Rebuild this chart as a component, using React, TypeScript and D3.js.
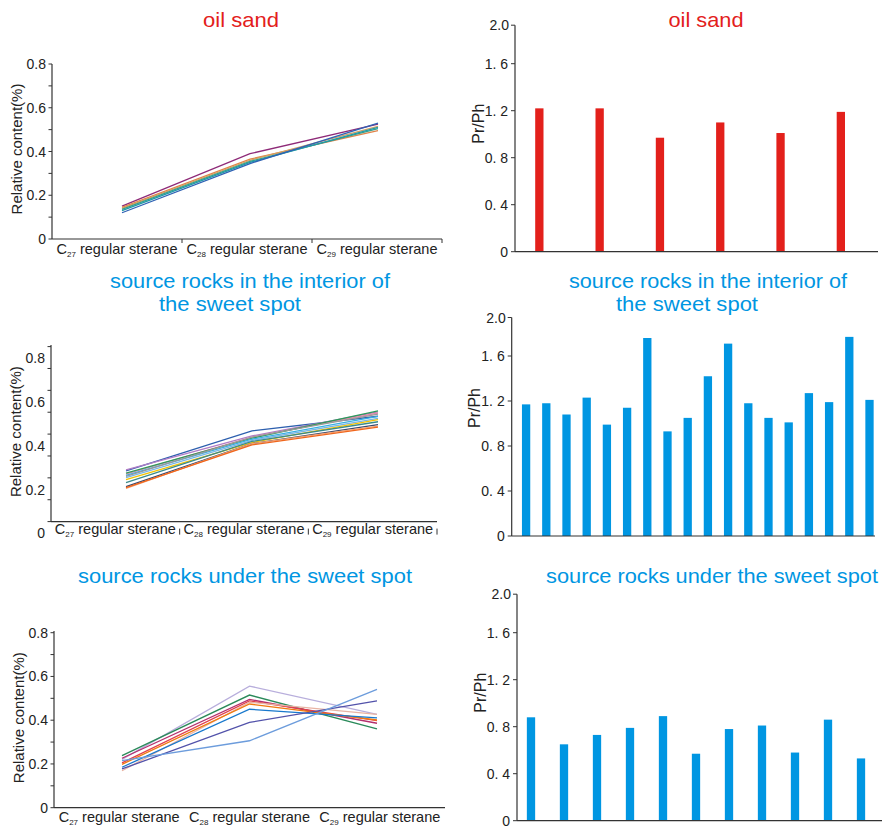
import React from "react";
import * as d3 from "d3";

// sterane categories (C27, C28, C29)
const steraneCarbons = ["27", "28", "29"];
const contentTicks = [0, 0.2, 0.4, 0.6, 0.8];
const contentTickLabels = ["0", "0.2", "0.4", "0.6", "0.8"];
const prPhTicks = [0, 0.4, 0.8, 1.2, 1.6];
const prPhTickLabels = ["0", "0. 4", "0. 8", "1. 2", "1. 6"];

// relative content of C27 / C28 / C29 regular steranes, one row per sample
const oilSandSteranes = [
  [0.15, 0.39, 0.525],
  [0.145, 0.365, 0.495],
  [0.14, 0.36, 0.515],
  [0.135, 0.355, 0.505],
  [0.13, 0.35, 0.51],
  [0.12, 0.345, 0.53],
];
const oilSandColors = ["#8e2a78", "#e0844a", "#d4a060", "#3aa08a", "#1f9aa8", "#2f62b4"];

const interiorSteranes = [
  [0.285, 0.468, 0.535],
  [0.29, 0.445, 0.555],
  [0.27, 0.44, 0.55],
  [0.275, 0.435, 0.56],
  [0.265, 0.43, 0.535],
  [0.26, 0.44, 0.545],
  [0.255, 0.425, 0.525],
  [0.245, 0.415, 0.52],
  [0.232, 0.42, 0.51],
  [0.213, 0.41, 0.497],
  [0.205, 0.41, 0.49],
  [0.209, 0.404, 0.485],
];
const interiorColors = [
  "#2d5fae", "#b07cc6", "#e68aa8", "#2e9a5a", "#38b0e2", "#9a9a9a",
  "#7ab6e6", "#f2c200", "#3a8a8a", "#3a4a6e", "#f5a070", "#f0661c",
];

const underSteranes = [
  [0.221, 0.556, 0.427],
  [0.238, 0.515, 0.36],
  [0.226, 0.495, 0.386],
  [0.205, 0.488, 0.398],
  [0.169, 0.482, 0.427],
  [0.198, 0.474, 0.401],
  [0.185, 0.45, 0.411],
  [0.177, 0.39, 0.488],
  [0.215, 0.306, 0.541],
];
const underColors = [
  "#b8aedc", "#2a8a5a", "#b3306e", "#e2404c", "#e8b4a4",
  "#f07a10", "#1878cc", "#5252aa", "#6c9cdc",
];

// Pr/Ph ratios per sample
const oilSandPrPh = [1.22, 1.22, 0.97, 1.1, 1.01, 1.19];
const interiorPrPh = [
  1.17, 1.18, 1.08, 1.23, 0.99, 1.14, 1.76, 0.93, 1.05,
  1.42, 1.71, 1.18, 1.05, 1.01, 1.27, 1.19, 1.77, 1.21,
];
const underPrPh = [0.88, 0.65, 0.73, 0.79, 0.89, 0.57, 0.78, 0.81, 0.58, 0.86, 0.53];

const FONT = "'Liberation Sans', Arial, sans-serif";
const TITLE_FONT = "'Liberation Sans Narrow', 'Liberation Sans', Arial, sans-serif";
const RED = "#e3201b";
const BLUE = "#0096e2";
const AXIS = "#333";

const Title = ({ text, cx, y, w, color }) => (
  <text
    x={cx}
    y={y}
    textAnchor="middle"
    fontFamily={TITLE_FONT}
    fontSize={21}
    fill={color}
    textLength={w}
    lengthAdjust="spacingAndGlyphs"
  >
    {text}
  </text>
);

const LinePanel = ({
  series,
  colors,
  axisX,
  zeroY,
  xEnd,
  shift = 0,
  axisTop,
  lineRange,
  catLabelY,
  catTicks,
}) => {
  const y = d3.scaleLinear().domain([0, 0.8]).range([zeroY, zeroY - 175]);
  const band = d3.scaleBand().domain(steraneCarbons).range([axisX, xEnd]);
  const xp = d3.scalePoint().domain(steraneCarbons).range(lineRange);
  const axisY = zeroY + shift;
  const line = d3
    .line<number>()
    .x((_, i) => xp(steraneCarbons[i]))
    .y((d) => y(d));

  return (
    <g>
      {series.map((s, i) => (
        <path key={i} d={line(s)} fill="none" stroke={colors[i]} strokeWidth={1.3} />
      ))}
      <line x1={axisX} x2={axisX} y1={axisTop} y2={axisY} stroke={AXIS} strokeWidth={1.2} />
      <line x1={axisX} x2={xEnd} y1={axisY} y2={axisY} stroke={AXIS} strokeWidth={1.2} />
      {d3.range(0, 9).map((k) => (
        <line
          key={k}
          x1={axisX - 3.5}
          x2={axisX}
          y1={y(k / 10) + shift}
          y2={y(k / 10) + shift}
          stroke={AXIS}
          strokeWidth={1}
        />
      ))}
      {contentTicks.map((t, i) => (
        <text
          key={t}
          x={axisX - 6}
          y={y(t)}
          dy="0.36em"
          textAnchor="end"
          fontFamily={FONT}
          fontSize={14}
          fill="#222"
        >
          {contentTickLabels[i]}
        </text>
      ))}
      {catTicks &&
        steraneCarbons.map((c) => (
          <line
            key={c}
            x1={band(c) + band.bandwidth()}
            x2={band(c) + band.bandwidth()}
            y1={axisY + catTicks[0]}
            y2={axisY + catTicks[1]}
            stroke={AXIS}
            strokeWidth={1}
          />
        ))}
      {steraneCarbons.map((c) => (
        <text
          key={c}
          x={band(c) + band.bandwidth() / 2}
          y={catLabelY}
          textAnchor="middle"
          fontFamily={FONT}
          fontSize={14.5}
          fill="#222"
        >
          C
          <tspan fontSize={8} dy={3}>
            {c}
          </tspan>
          <tspan dy={-3}> regular sterane</tspan>
        </text>
      ))}
      <text
        transform={`translate(${axisX - 35},${axisY - 90}) rotate(-90)`}
        textAnchor="middle"
        dy="0.35em"
        fontFamily={FONT}
        fontSize={15}
        fill="#222"
      >
        Relative content(%)
      </text>
    </g>
  );
};

const BarPanel = ({ values, color, axisX, zeroY, unit, xEnd, bandRange }) => {
  const y = d3.scaleLinear().domain([0, 1.6]).range([zeroY, zeroY - 1.6 * unit]);
  const x = d3
    .scaleBand<number>()
    .domain(d3.range(values.length))
    .range(bandRange);
  const top = y(1.6) - 38.5;
  const bw = 8.3;

  return (
    <g>
      {values.map((v, i) => (
        <rect
          key={i}
          x={x(i) + x.bandwidth() / 2 - bw / 2}
          y={y(v)}
          width={bw}
          height={zeroY - y(v)}
          fill={color}
        />
      ))}
      <line x1={axisX} x2={axisX} y1={top} y2={zeroY} stroke={AXIS} strokeWidth={1.2} />
      <line x1={axisX} x2={xEnd} y1={zeroY} y2={zeroY} stroke={AXIS} strokeWidth={1.2} />
      {prPhTicks.map((t, i) => (
        <g key={t}>
          <line x1={axisX - 4} x2={axisX} y1={y(t)} y2={y(t)} stroke={AXIS} />
          <text
            x={axisX - 7}
            y={y(t)}
            dy="0.36em"
            textAnchor="end"
            fontFamily={FONT}
            fontSize={14}
            fill="#222"
          >
            {prPhTickLabels[i]}
          </text>
        </g>
      ))}
      <line x1={axisX - 4} x2={axisX} y1={top} y2={top} stroke={AXIS} />
      <text
        x={axisX - 6}
        y={top}
        dy="0.36em"
        textAnchor="end"
        fontFamily={FONT}
        fontSize={14}
        fill="#222"
      >
        2.0
      </text>
      <text
        transform={`translate(${axisX - 37},${zeroY - 128}) rotate(-90)`}
        textAnchor="middle"
        dy="0.35em"
        fontFamily={FONT}
        fontSize={16}
        fill="#222"
      >
        Pr/Ph
      </text>
    </g>
  );
};

export default function App() {
  return (
    <svg
      width={883}
      height={828}
      style={{ position: "absolute", left: 0, top: 0, background: "#fff" }}
    >
      <rect width={883} height={828} fill="#fff" />
      <Title text="oil sand" cx={241} y={27} w={76} color={RED} />
      <Title text="oil sand" cx={706} y={27} w={75} color={RED} />
      <Title text="source rocks in the interior of" cx={250} y={288} w={280} color={BLUE} />
      <Title text="the sweet spot" cx={230} y={311} w={142} color={BLUE} />
      <Title text="source rocks in the interior of" cx={708} y={288} w={278} color={BLUE} />
      <Title text="the sweet spot" cx={687} y={311} w={142} color={BLUE} />
      <Title text="source rocks under the sweet spot" cx={245} y={583} w={334} color={BLUE} />
      <Title text="source rocks under the sweet spot" cx={712} y={583} w={332} color={BLUE} />

      <LinePanel
        series={oilSandSteranes}
        colors={oilSandColors}
        axisX={52}
        zeroY={239}
        xEnd={442}
        axisTop={64}
        lineRange={[122, 378]}
        catLabelY={254}
        catTicks={[0, 4]}
      />
      <LinePanel
        series={interiorSteranes}
        colors={interiorColors}
        axisX={51}
        zeroY={533.3}
        shift={-11.7}
        xEnd={437}
        axisTop={345}
        lineRange={[126, 378]}
        catLabelY={534}
        catTicks={[7, 13]}
      />
      <LinePanel
        series={underSteranes}
        colors={underColors}
        axisX={54}
        zeroY={807.7}
        xEnd={445}
        axisTop={631}
        lineRange={[122, 377]}
        catLabelY={822}
      />

      <BarPanel
        values={oilSandPrPh}
        color={RED}
        axisX={515}
        zeroY={251.7}
        unit={117.5}
        xEnd={878}
        bandRange={[509.2, 871]}
      />
      <BarPanel
        values={interiorPrPh}
        color={BLUE}
        axisX={511.7}
        zeroY={536}
        unit={112.5}
        xEnd={875}
        bandRange={[516, 879.6]}
      />
      <BarPanel
        values={underPrPh}
        color={BLUE}
        axisX={517}
        zeroY={820.7}
        unit={117.5}
        xEnd={882}
        bandRange={[514.5, 877.5]}
      />
    </svg>
  );
}
